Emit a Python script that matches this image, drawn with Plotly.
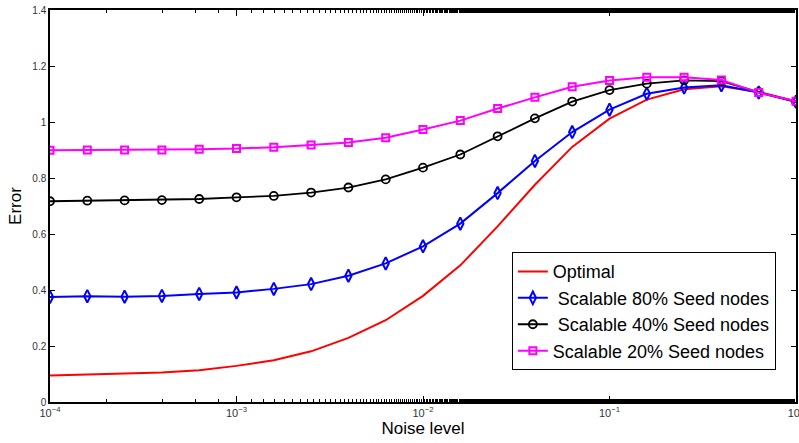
import plotly.graph_objects as go

noise = [1e-4 * 10 ** (0.2 * i) for i in range(21)]

optimal = [0.095, 0.098, 0.101, 0.105, 0.113, 0.129, 0.149, 0.181, 0.229, 0.292, 0.379,
           0.488, 0.627, 0.776, 0.911, 1.012, 1.080, 1.117, 1.128, 1.107, 1.074]
seed80 = [0.375, 0.378, 0.376, 0.379, 0.386, 0.391, 0.404, 0.421, 0.451, 0.495, 0.556,
          0.637, 0.746, 0.861, 0.964, 1.044, 1.101, 1.123, 1.131, 1.105, 1.072]
seed40 = [0.717, 0.719, 0.720, 0.721, 0.725, 0.731, 0.736, 0.748, 0.766, 0.795, 0.837,
          0.884, 0.949, 1.013, 1.073, 1.114, 1.137, 1.149, 1.146, 1.107, 1.072]
seed20 = [0.899, 0.900, 0.900, 0.900, 0.903, 0.905, 0.910, 0.918, 0.927, 0.944, 0.973,
          1.005, 1.048, 1.088, 1.126, 1.148, 1.160, 1.160, 1.150, 1.105, 1.074]

names = ["Optimal", " Scalable 80% Seed nodes", " Scalable 40% Seed nodes", "Scalable 20% Seed nodes"]
x_tickvals = [1e-4, 1e-3, 1e-2, 1e-1, 1]
x_ticktext = ["10<sup>−4</sup>", "10<sup>−3</sup>", "10<sup>−2</sup>", "10<sup>−1</sup>", "10<sup>0</sup>"]
y_tickvals = [0, 0.2, 0.4, 0.6, 0.8, 1.0, 1.2, 1.4]
y_ticktext = ["0", "0.2", "0.4", "0.6", "0.8", "1", "1.2", "1.4"]

fig = go.Figure()
fig.add_trace(go.Scatter(x=noise, y=optimal, name=names[0], mode="lines",
                         line=dict(color="#ff0000", width=2)))
fig.add_trace(go.Scatter(x=noise, y=seed80, name=names[1], mode="lines+markers",
                         line=dict(color="#0000ff", width=2),
                         marker=dict(symbol="diamond-tall-open", size=9, color="#0000ff",
                                     line=dict(width=2, color="#0000ff"))))
fig.add_trace(go.Scatter(x=noise, y=seed40, name=names[2], mode="lines+markers",
                         line=dict(color="#000000", width=1.8),
                         marker=dict(symbol="circle-open", size=8, color="#000000",
                                     line=dict(width=1.8, color="#000000"))))
fig.add_trace(go.Scatter(x=noise, y=seed20, name=names[3], mode="lines+markers",
                         line=dict(color="#ff00ff", width=2),
                         marker=dict(symbol="square-open", size=7, color="#ff00ff",
                                     line=dict(width=2, color="#ff00ff"))))

fig.update_layout(
    width=799, height=443,
    margin=dict(l=50, r=3, t=10, b=41),
    paper_bgcolor="white", plot_bgcolor="white",
    font=dict(family="Liberation Sans, Arial, sans-serif", color="#000", size=12),
    showlegend=True,
    legend=dict(x=0.973, y=0.382, xanchor="right", yanchor="top",
                bgcolor="white", bordercolor="black", borderwidth=1,
                font=dict(size=18, color="#000"), itemwidth=30,
                tracegroupgap=0),
)
fig.update_xaxes(
    type="log", range=[-4, 0], automargin=False,
    tickvals=x_tickvals, ticktext=x_ticktext,
    tickfont=dict(size=11, color="#333"),
    ticklabeloverflow="allow",
    ticks="inside", ticklen=6, tickwidth=1, tickcolor="#000",
    minor=dict(ticks="inside", ticklen=3, tickcolor="#000", showgrid=False),
    showline=True, linecolor="#000", linewidth=1.5, mirror="ticks",
    showgrid=False, zeroline=False,
    title=dict(text="Noise level", font=dict(size=17, color="#000"), standoff=4),
)
fig.update_yaxes(
    range=[0, 1.4], automargin=False,
    tickvals=y_tickvals, ticktext=y_ticktext,
    tickfont=dict(size=10, color="#333"),
    ticks="inside", ticklen=5, tickwidth=1, tickcolor="#000",
    showline=True, linecolor="#000", linewidth=1.5, mirror="ticks",
    showgrid=False, zeroline=False,
    title=dict(text="Error", font=dict(size=17, color="#000"), standoff=6),
)

fig.write_html("out.html")
